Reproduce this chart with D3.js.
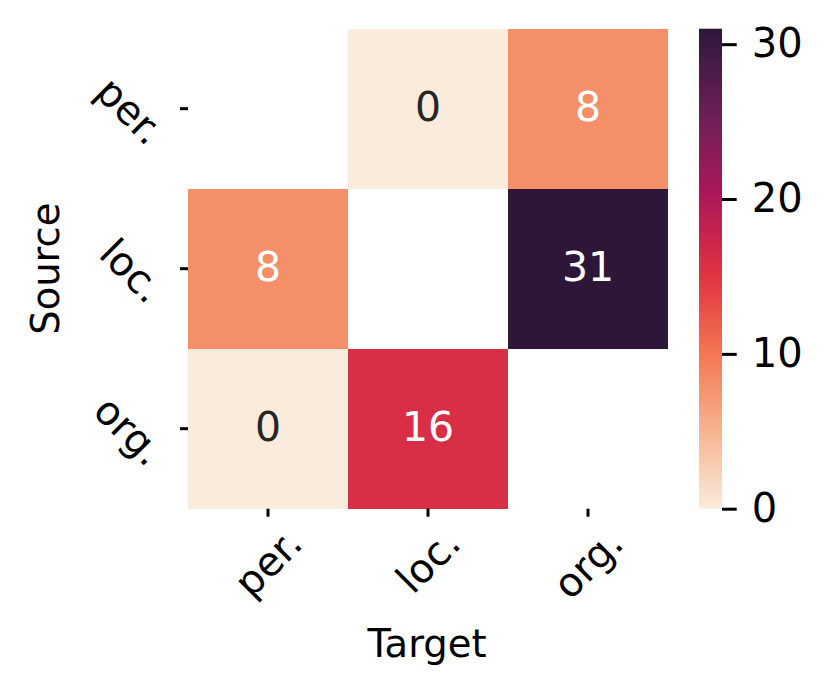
<!DOCTYPE html>
<html>
<head>
<meta charset="utf-8">
<script src="https://cdn.jsdelivr.net/npm/d3@7"></script>
<style>
  body { margin: 0; background: #fff; }
  text { font-family: "DejaVu Sans", sans-serif; }
</style>
</head>
<body>
<script>
// data (diagonal is masked)
const sources = ["per.", "loc.", "org."]
const targets = ["per.", "loc.", "org."]
const counts = [
  [null, 0, 8],
  [8, null, 31],
  [0, 16, null]
]
const cbarTicks = [0, 10, 20, 30]
const VMAX = 31

// seaborn "rocket" samples (0 -> 1)
const rocketStops = ["#03051a", "#35193e", "#701f57", "#ad1759", "#e13342", "#f37651", "#f6b48f", "#faebdd"]

const W = 830, H = 697
const LEFT = 188, RIGHT = 668, TOP = 28.7, BOTTOM = 508.7
const CB_X = 699, CB_W = 23
const TICK_FONT = 40, ANNOT_FONT = 41, LABEL_FONT = 38.5

const rocket = d3.scaleLinear()
  .domain(rocketStops.map((d, i) => i / (rocketStops.length - 1)))
  .range(rocketStops)
  .interpolate(d3.interpolateRgb)
// reversed, the top end stops short of the darkest navy
const toRocket = d3.scaleLinear().domain([0, VMAX]).range([1, 0.12])
const color = v => rocket(toRocket(v))

const svg = d3.select("body").append("svg")
  .attr("width", W)
  .attr("height", H)

const x = d3.scaleBand().domain(targets).range([LEFT, RIGHT])
const y = d3.scaleBand().domain(sources).range([TOP, BOTTOM])

const cells = []
counts.forEach((row, i) => row.forEach((v, j) => {
  if (v !== null) cells.push({ src: sources[i], tgt: targets[j], v: v })
}))

svg.append("g").selectAll("rect")
  .data(cells)
  .join("rect")
  .attr("x", d => x(d.tgt))
  .attr("y", d => y(d.src))
  .attr("width", x.bandwidth())
  .attr("height", y.bandwidth())
  .attr("fill", d => color(d.v))
  .attr("shape-rendering", "crispEdges")

let lum = function (c) {
  const rgb = d3.rgb(c)
  const f = u => { u = u / 255; return u <= 0.03928 ? u / 12.92 : Math.pow((u + 0.055) / 1.055, 2.4) }
  return 0.2126 * f(rgb.r) + 0.7152 * f(rgb.g) + 0.0722 * f(rgb.b)
}

svg.append("g").selectAll("text")
  .data(cells)
  .join("text")
  .attr("x", d => x(d.tgt) + x.bandwidth() / 2)
  .attr("y", d => y(d.src) + y.bandwidth() / 2)
  .attr("dy", "0.3em")
  .attr("text-anchor", "middle")
  .attr("font-size", ANNOT_FONT)
  .attr("fill", d => lum(color(d.v)) > 0.408 ? "#262626" : "#ffffff")
  .text(d => d.v)

// y axis
const yAxis = svg.append("g")
  .attr("transform", `translate(${LEFT},0)`)
  .call(d3.axisLeft(y).tickSize(8).tickPadding(4))
yAxis.select(".domain").remove()
yAxis.selectAll(".tick line").attr("stroke", "#000").attr("stroke-width", 3)
yAxis.selectAll(".tick text")
  .attr("font-size", TICK_FONT)
  .attr("fill", "#000")
  .attr("x", 0).attr("dy", null)
  .attr("text-anchor", "middle")
  .attr("transform", "rotate(45)")
  .each(function () {
    // matplotlib-style: rotate, then put the box right edge / middle on the tick
    const b = this.getBoundingClientRect()
    const tr = d3.select(this.parentNode).attr("transform")
    const ty = +tr.match(/translate\(([^,]+),([^)]+)\)/)[2]
    const cx = b.left + b.width / 2, cy = b.top + b.height / 2
    const wantRight = LEFT - 15
    const dx = (wantRight - b.width / 2) - cx
    const dy = ty + 2 - cy
    d3.select(this).attr("transform", `translate(${dx},${dy}) rotate(45)`)
  })

// x axis
const xAxis = svg.append("g")
  .attr("transform", `translate(0,${BOTTOM})`)
  .call(d3.axisBottom(x).tickSize(8).tickPadding(4))
xAxis.select(".domain").remove()
xAxis.selectAll(".tick line").attr("stroke", "#000").attr("stroke-width", 3)
xAxis.selectAll(".tick text")
  .attr("font-size", TICK_FONT)
  .attr("fill", "#000")
  .attr("y", 0).attr("dy", null)
  .attr("text-anchor", "middle")
  .attr("transform", "rotate(-45)")
  .each(function () {
    const b = this.getBoundingClientRect()
    const tr = d3.select(this.parentNode).attr("transform")
    const tx = +tr.match(/translate\(([^,]+),([^)]+)\)/)[1]
    const cx = b.left + b.width / 2, cy = b.top + b.height / 2
    const wantTop = BOTTOM + 11
    const dx = tx - cx
    const dy = (wantTop + b.height / 2) - cy
    d3.select(this).attr("transform", `translate(${dx},${dy}) rotate(-45)`)
  })

svg.append("text")
  .attr("x", (LEFT + RIGHT) / 2 - 1)
  .attr("y", 657)
  .attr("text-anchor", "middle")
  .attr("font-size", LABEL_FONT)
  .text("Target")

svg.append("text")
  .attr("transform", `translate(59,${(TOP + BOTTOM) / 2}) rotate(-90)`)
  .attr("text-anchor", "middle")
  .attr("font-size", LABEL_FONT)
  .text("Source")

// colorbar
const cy = d3.scaleLinear().domain([0, VMAX]).range([BOTTOM, TOP])
const grad = svg.append("defs").append("linearGradient")
  .attr("id", "cbar")
  .attr("x1", 0).attr("y1", 1).attr("x2", 0).attr("y2", 0)
grad.selectAll("stop")
  .data(d3.range(0, 65).map(i => i / 64 * VMAX))
  .join("stop")
  .attr("offset", d => d / VMAX)
  .attr("stop-color", d => color(d))

svg.append("rect")
  .attr("x", CB_X)
  .attr("y", cy(VMAX))
  .attr("width", CB_W)
  .attr("height", cy(0) - cy(VMAX))
  .attr("fill", "url(#cbar)")

const cAxis = svg.append("g")
  .attr("transform", `translate(${CB_X + CB_W},0)`)
  .call(d3.axisRight(cy).tickValues(cbarTicks).tickSize(14.7).tickPadding(15))
cAxis.select(".domain").remove()
cAxis.selectAll(".tick line").attr("stroke", "#000").attr("stroke-width", 3)
cAxis.selectAll(".tick text")
  .attr("font-size", TICK_FONT)
  .attr("fill", "#000")
</script>
</body>
</html>
